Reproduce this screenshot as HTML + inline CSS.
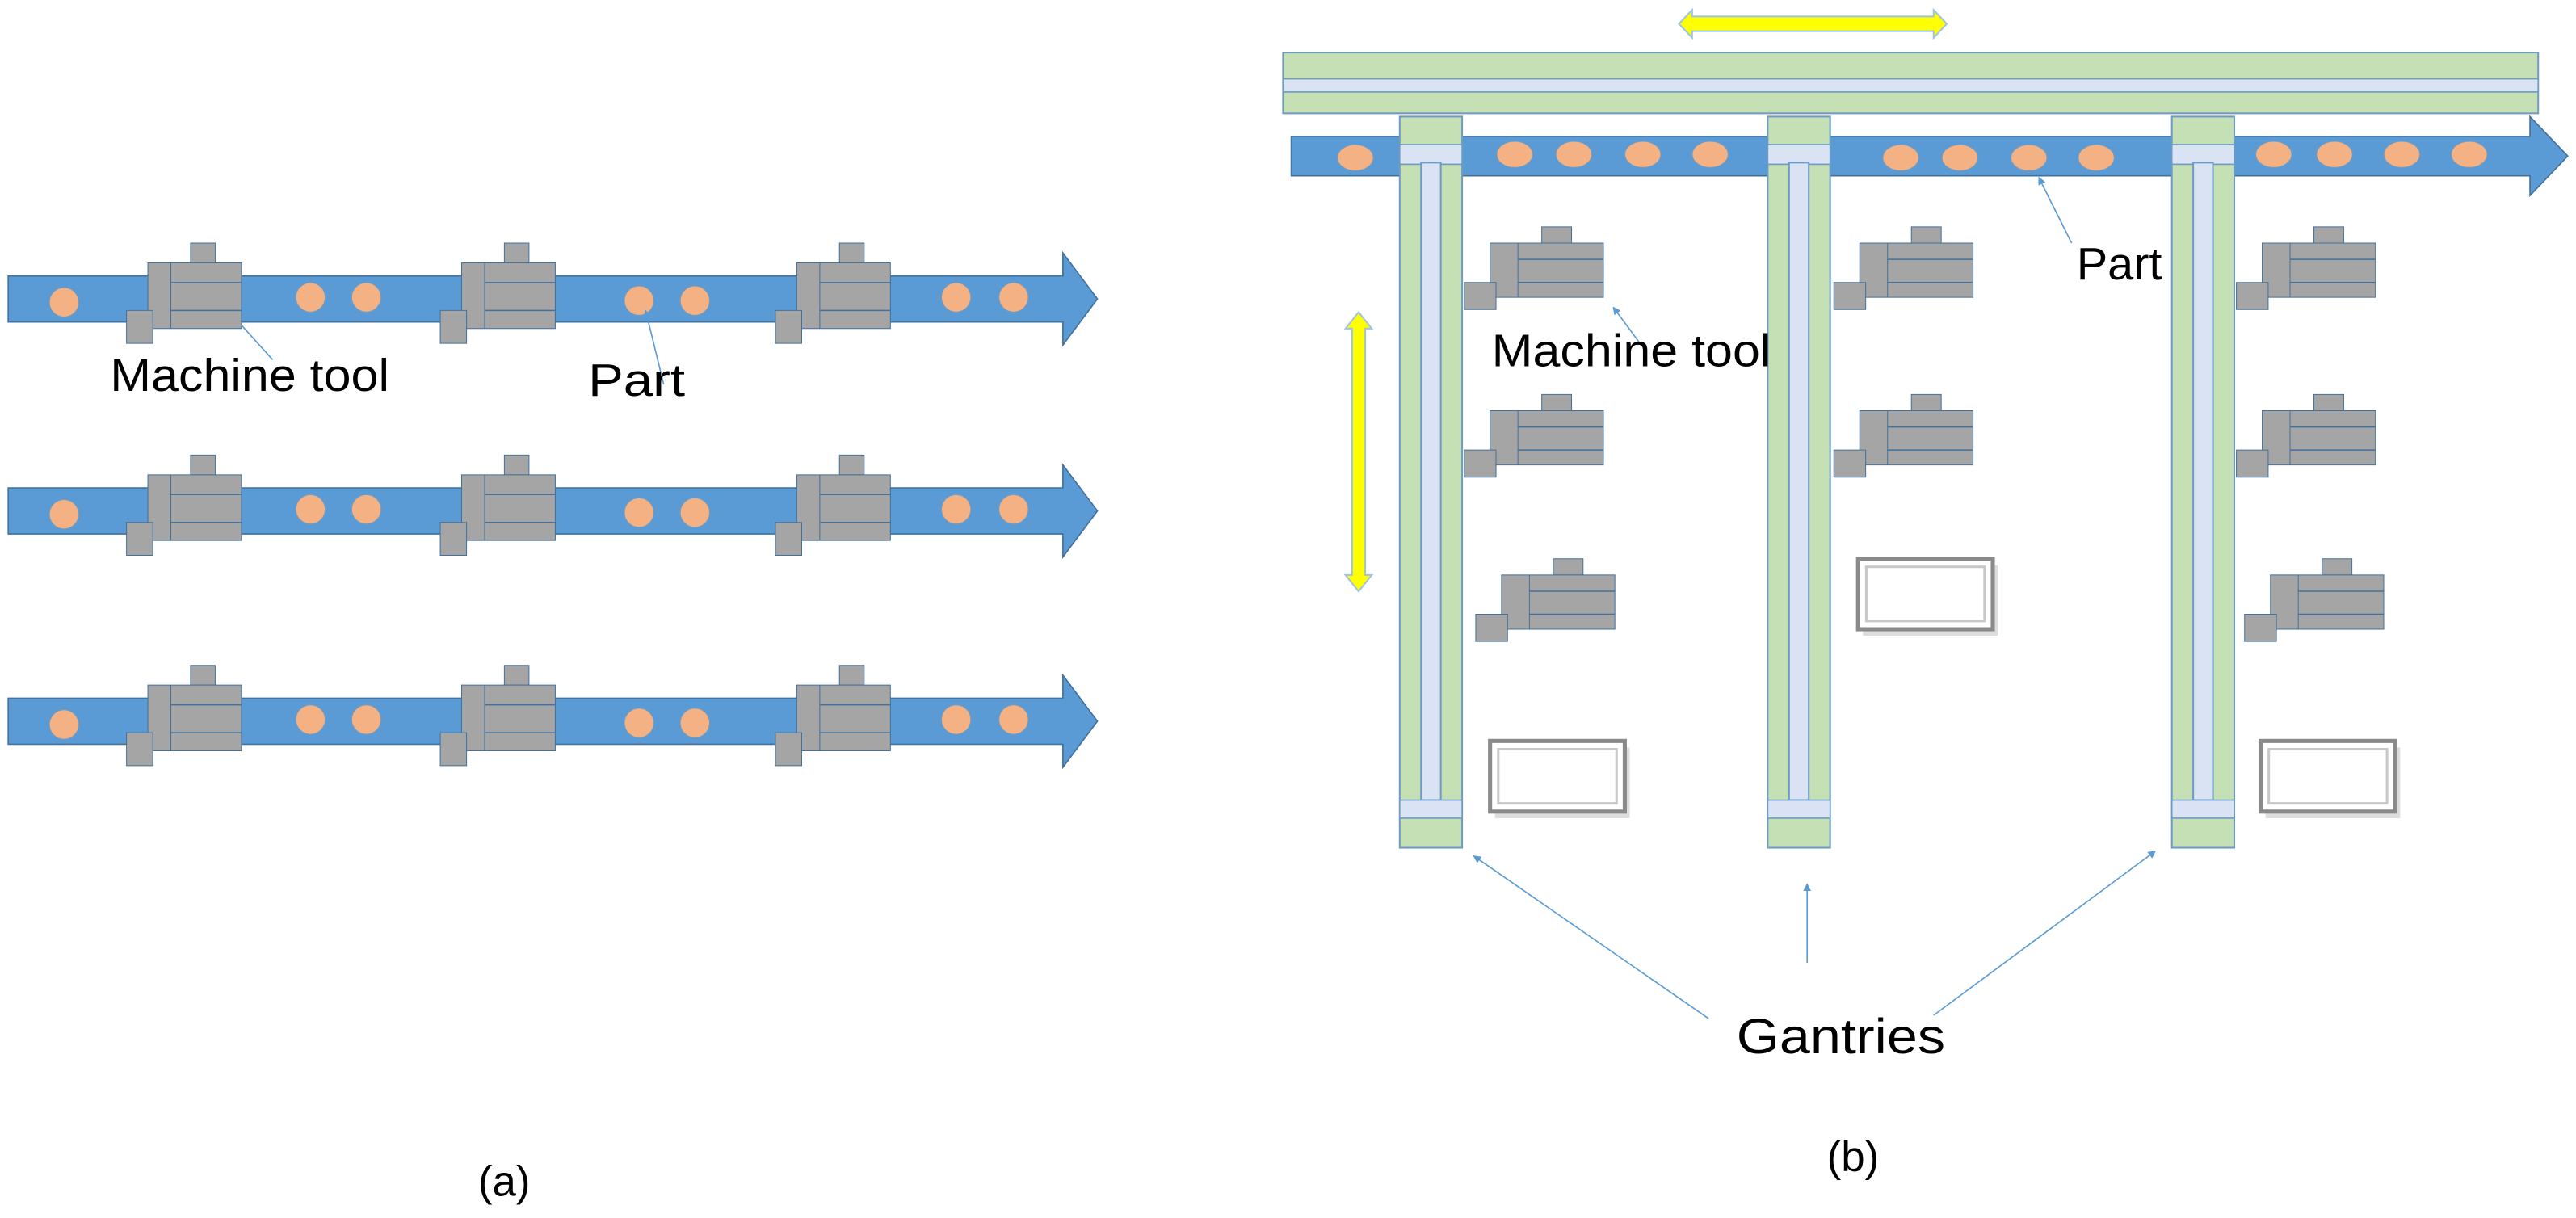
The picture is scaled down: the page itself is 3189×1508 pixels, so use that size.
<!DOCTYPE html>
<html><head><meta charset="utf-8"><style>html,body{margin:0;padding:0;background:#fff}svg{display:block}</style></head>
<body>
<svg width="3189" height="1508" viewBox="0 0 1568 741.4" preserveAspectRatio="none" xmlns="http://www.w3.org/2000/svg" font-family="'Liberation Sans', sans-serif">
<defs>
<g id="mt">
 <rect x="26" y="-12" width="15" height="12" fill="#a5a5a5" stroke="#41719c" stroke-width="1" vector-effect="non-scaling-stroke"/>
 <rect x="0" y="0" width="57" height="40" fill="#a5a5a5" stroke="#41719c" stroke-width="1" vector-effect="non-scaling-stroke"/>
 <line x1="14" y1="0" x2="14" y2="40" stroke="#41719c" stroke-width="1" vector-effect="non-scaling-stroke"/>
 <line x1="14" y1="12" x2="57" y2="12" stroke="#41719c" stroke-width="1.5" vector-effect="non-scaling-stroke"/>
 <line x1="14" y1="29" x2="57" y2="29" stroke="#41719c" stroke-width="1.5" vector-effect="non-scaling-stroke"/>
 <rect x="-13" y="29" width="16" height="20" fill="#a5a5a5" stroke="#41719c" stroke-width="1" vector-effect="non-scaling-stroke"/>
</g>
<g id="rowa">
 <polygon points="5,168 647,168 647,154 668,182 647,210 647,196 5,196" fill="#5b9bd5" stroke="#41719c" stroke-width="0.8"/>
 <g fill="#f4b183" stroke="#6d9bc3" stroke-width="0.6">
  <ellipse cx="39" cy="184" rx="9" ry="9"/><ellipse cx="189" cy="181" rx="9" ry="9"/><ellipse cx="223" cy="181" rx="9" ry="9"/>
  <ellipse cx="389" cy="183" rx="9" ry="9"/><ellipse cx="423" cy="183" rx="9" ry="9"/><ellipse cx="582" cy="181" rx="9" ry="9"/><ellipse cx="617" cy="181" rx="9" ry="9"/>
 </g>
 <use href="#mt" x="90" y="160"/><use href="#mt" x="281" y="160"/><use href="#mt" x="485" y="160"/>
</g>
<g id="gcol">
 <rect x="0" y="71" width="38" height="445" fill="#c5e0b4" stroke="#6d9bc3" stroke-width="1"/>
 <rect x="0" y="88" width="38" height="12" fill="#dae3f3" stroke="#6d9bc3" stroke-width="0.8"/>
 <rect x="13" y="99" width="12" height="388" fill="#dae3f3" stroke="#6d9bc3" stroke-width="1"/>
 <rect x="0" y="487" width="38" height="11" fill="#dae3f3" stroke="#6d9bc3" stroke-width="0.8"/>
</g>
<g id="wbox">
 <rect x="3" y="4" width="82" height="43" fill="#bbb" opacity="0.5"/>
 <rect x="0" y="0" width="82" height="43" fill="#fff" stroke="#8a8a8a" stroke-width="2.5"/>
 <rect x="5" y="5" width="72" height="33" fill="#fff" stroke="#c8c8c8" stroke-width="1.5"/>
</g>
<marker id="ah" viewBox="0 0 10 10" refX="9" refY="5" markerWidth="6" markerHeight="6" orient="auto"><path d="M0,0 L10,5 L0,10 z" fill="#5b9bd5"/></marker>
</defs>

<use href="#rowa"/>
<use href="#rowa" y="129"/>
<use href="#rowa" y="257"/>
<line x1="147" y1="198" x2="166" y2="219" stroke="#5b9bd5" stroke-width="0.8"/>
<line x1="404" y1="234" x2="393" y2="189" stroke="#5b9bd5" stroke-width="0.8" marker-end="url(#ah)"/>
<text x="67" y="238" font-size="28" textLength="170" lengthAdjust="spacingAndGlyphs">Machine tool</text>
<text x="358" y="241" font-size="28" textLength="59" lengthAdjust="spacingAndGlyphs">Part</text>
<text x="291" y="728" font-size="26">(a)</text>

<polygon points="1022,14.5 1030,6 1030,10 1177,10 1177,6 1185,14.5 1177,23 1177,19 1030,19 1030,23" fill="#ffff00" stroke="#9dc3e6" stroke-width="1"/>
<rect x="781" y="32" width="764" height="37" fill="#c5e0b4" stroke="#6d9bc3" stroke-width="1"/>
<rect x="781" y="48" width="764" height="8" fill="#dae3f3" stroke="#6d9bc3" stroke-width="0.8"/>
<polygon points="786,83 1540,83 1540,71 1563,95 1540,119 1540,107 786,107" fill="#5b9bd5" stroke="#41719c" stroke-width="0.8"/>
<g fill="#f4b183" stroke="#6d9bc3" stroke-width="0.6">
 <ellipse cx="825" cy="96" rx="11" ry="8"/><ellipse cx="922" cy="94" rx="11" ry="8"/><ellipse cx="958" cy="94" rx="11" ry="8"/><ellipse cx="1000" cy="94" rx="11" ry="8"/><ellipse cx="1041" cy="94" rx="11" ry="8"/>
 <ellipse cx="1157" cy="96" rx="11" ry="8"/><ellipse cx="1193" cy="96" rx="11" ry="8"/><ellipse cx="1235" cy="96" rx="11" ry="8"/><ellipse cx="1276" cy="96" rx="11" ry="8"/>
 <ellipse cx="1384" cy="94" rx="11" ry="8"/><ellipse cx="1421" cy="94" rx="11" ry="8"/><ellipse cx="1462" cy="94" rx="11" ry="8"/><ellipse cx="1503" cy="94" rx="11" ry="8"/>
</g>
<use href="#gcol" x="852"/><use href="#gcol" x="1076"/><use href="#gcol" x="1322"/>

<g transform="translate(907,148) scale(1.21,0.825)"><use href="#mt"/></g>
<g transform="translate(907,250) scale(1.21,0.825)"><use href="#mt"/></g>
<g transform="translate(914,350) scale(1.21,0.825)"><use href="#mt"/></g>
<g transform="translate(1132,148) scale(1.21,0.825)"><use href="#mt"/></g>
<g transform="translate(1132,250) scale(1.21,0.825)"><use href="#mt"/></g>
<g transform="translate(1377,148) scale(1.21,0.825)"><use href="#mt"/></g>
<g transform="translate(1377,250) scale(1.21,0.825)"><use href="#mt"/></g>
<g transform="translate(1382,350) scale(1.21,0.825)"><use href="#mt"/></g>

<use href="#wbox" x="1131" y="340"/>
<use href="#wbox" x="907" y="451"/>
<use href="#wbox" x="1376" y="451"/>

<polygon points="827,190 835,200 831,200 831,350 835,350 827,360 819,350 823,350 823,200 819,200" fill="#ffff00" stroke="#9dc3e6" stroke-width="1"/>

<line x1="999" y1="210" x2="982" y2="187" stroke="#5b9bd5" stroke-width="0.8" marker-end="url(#ah)"/>
<line x1="1261" y1="148" x2="1241" y2="108" stroke="#5b9bd5" stroke-width="0.8" marker-end="url(#ah)"/>
<text x="908" y="223" font-size="28" textLength="170" lengthAdjust="spacingAndGlyphs">Machine tool</text>
<text x="1264" y="170" font-size="28" textLength="52" lengthAdjust="spacingAndGlyphs">Part</text>

<line x1="1040" y1="620" x2="897" y2="521" stroke="#5b9bd5" stroke-width="0.8" marker-end="url(#ah)"/>
<line x1="1100" y1="586" x2="1100" y2="538" stroke="#5b9bd5" stroke-width="0.8" marker-end="url(#ah)"/>
<line x1="1177" y1="618" x2="1312" y2="518" stroke="#5b9bd5" stroke-width="0.8" marker-end="url(#ah)"/>
<text x="1057" y="641" font-size="30" textLength="127" lengthAdjust="spacingAndGlyphs">Gantries</text>
<text x="1112" y="713" font-size="26">(b)</text>
</svg>
</body></html>
